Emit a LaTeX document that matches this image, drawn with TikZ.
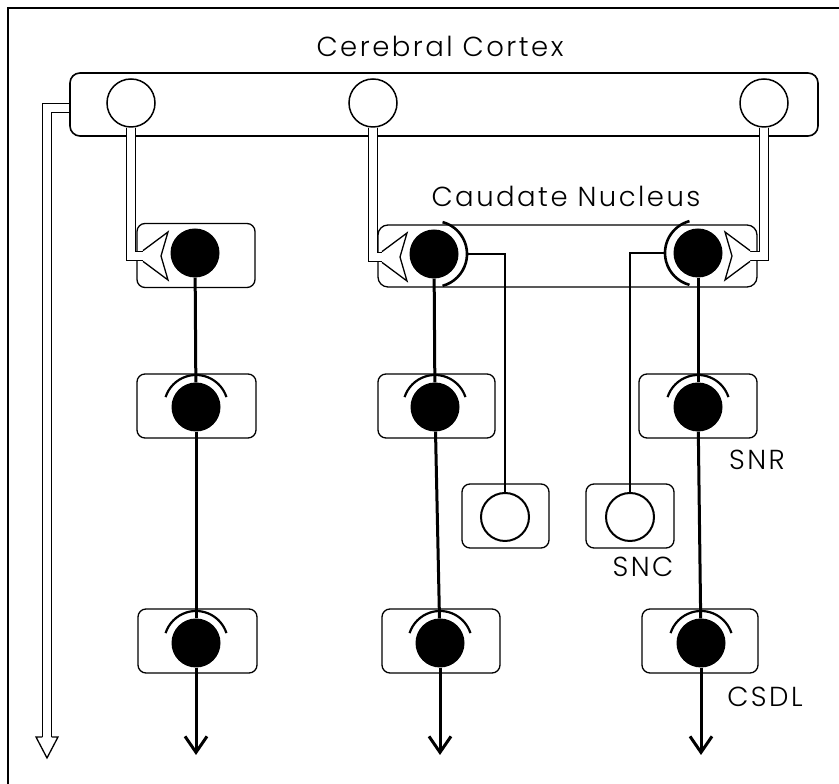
\documentclass[tikz,border=0pt]{standalone}
\usepackage{fontspec}
\newfontfamily\labfont{Poppins Light}[LetterSpace=9]
\usetikzlibrary{arrows.meta,calc}
\begin{document}
\begin{tikzpicture}[x=1pt,y=1pt,
  lab/.style={font=\labfont\fontsize{27.5}{32}\selectfont, inner sep=0, anchor=base},
  region/.style={draw, line width=1.3pt, rounded corners=8pt, inner sep=0},
  cellbox/.style={region, minimum height=64pt},
  soma/.style={circle, fill=black, minimum size=49pt, inner sep=0},
  pyr/.style={circle, draw, fill=white, line width=1.5pt, minimum size=48pt, inner sep=0},
  axon/.style={line width=3pt},
  outarrow/.style={axon, -{Straight Barb[length=16pt,width=22pt]}},
  fiber/.style={draw, line width=1.3pt, double=white, double distance=8pt},
  terminal/.style={draw, line width=1.3pt, fill=white, line join=miter},
  capline/.style={line width=2.2pt},
  crescent/.style={line width=2.6pt},
  link/.style={line width=2.2pt},
]
\useasboundingbox (0,0) rectangle (839,784);

% frame (top and left edges)
\draw[line width=2.2pt] (8,0) -- (8,776) -- (839,776);

% regions
\node[region, rounded corners=10pt, line width=1.6pt, minimum width=748pt, minimum height=63pt] (cortex) at (444,679.5) {};
\node[region, rounded corners=10pt, minimum width=379pt, minimum height=62pt] (caudate) at (567.5,528) {};
\node[cellbox, minimum width=118pt] (bL1) at (196,528.5) {};
\node[cellbox, minimum width=119pt] (bL2) at (196.5,378) {};
\node[cellbox, minimum width=117pt] (bM2) at (436.5,378) {};
\node[cellbox, minimum width=118pt] (bR2) at (698,378) {};
\node[cellbox, minimum width=87pt] (bSM) at (505.5,268) {};
\node[cellbox, minimum width=88pt] (bSR) at (630,268) {};
\node[cellbox, minimum width=119pt] (bL3) at (197.5,143) {};
\node[cellbox, minimum width=118pt] (bM3) at (441,143) {};
\node[cellbox, minimum width=116pt] (bR3) at (700,143) {};

% labels
\node[lab] (tcortex) at (440,727) {Cerebral Cortex};
\node[lab] (tcaud) at (566,577) {Caudate Nucleus};
\node[lab] (tsnr) at (757,314) {SNR};
\node[lab] (tsnc) at (643,207) {SNC};
\node[lab] (tcsdl) at (765,77) {CSDL};

% cortical cells
\node[pyr] (c1) at (131,681) {};
\node[pyr] (c2) at (373,681) {};
\node[pyr] (c3) at (764,681) {};

% nigral cells
\node[pyr, line width=2pt] (sSM) at (505,267) {};
\node[pyr, line width=2pt] (sSR) at (630,267) {};

% black somata
\node[soma] (sL1) at (195,531) {};
\node[soma] (sM1) at (434,530) {};
\node[soma] (sR1) at (698,531) {};
\node[soma] (sL2) at (196,377) {};
\node[soma] (sM2) at (435,377) {};
\node[soma] (sR2) at (698,377) {};
\node[soma] (sL3) at (196,141) {};
\node[soma] (sM3) at (440,141) {};
\node[soma] (sR3) at (701,141) {};
\coordinate (eL) at (196,29);
\coordinate (eM) at (440,29);
\coordinate (eR) at (701,29);

% cortical fibres
\draw[fiber] (c1.south) |- ($(sL1)+(-52,-3)$);
\draw[fiber] (c2.south) |- ($(sM1)+(-52,-3)$);
\draw[fiber] (c3.south) |- ($(sR1)+(52,-3)$);
\coordinate (hx) at (47,47);
\draw[fiber] ($(cortex.west)+(0,-3.5)$) -| (hx);
\draw[line width=1.3pt, line join=miter] ($(hx)+(-4.65,0)$) -- ($(hx)+(-11,0)$) -- ($(hx)+(0,-21)$) -- ($(hx)+(11,0)$) -- ($(hx)+(4.65,0)$);

% presynaptic terminals
\filldraw[terminal] ($(sL1)+(-52,2.4)$) -- ($(sL1)+(-27,21)$) -- ($(sL1)+(-34,-3)$) -- ($(sL1)+(-27,-27)$) -- ($(sL1)+(-52,-8.4)$);
\filldraw[terminal] ($(sM1)+(-52,2.4)$) -- ($(sM1)+(-27,21)$) -- ($(sM1)+(-34,-3)$) -- ($(sM1)+(-27,-27)$) -- ($(sM1)+(-52,-8.4)$);
\filldraw[terminal] ($(sR1)+(52,2.4)$) -- ($(sR1)+(27,21)$) -- ($(sR1)+(34,-3)$) -- ($(sR1)+(27,-27)$) -- ($(sR1)+(52,-8.4)$);

% caudate crescents and nigral links
\draw[crescent] ($(sM1)+(75:33)$) arc[start angle=75, end angle=-75, radius=33];
\draw[crescent] ($(sR1)+(105:33)$) arc[start angle=105, end angle=255, radius=33];
\draw[link] ($(sM1)+(33,0)$) -| (sSM.north);
\draw[link] ($(sR1)+(-33,0)$) -| (sSR.north);

% projection axons
\draw[axon] (sL1) -- (sL2);
\draw[axon] (sL2) -- (sL3);
\draw[outarrow] (sL3) -- (eL);
\draw[axon] (sM1) -- (sM2);
\draw[axon] (sM2) -- (sM3);
\draw[outarrow] (sM3) -- (eM);
\draw[axon] (sR1) -- (sR2);
\draw[axon] (sR2) -- (sR3);
\draw[outarrow] (sR3) -- (eR);

% postsynaptic caps
\foreach \s in {sL2,sM2,sR2,sL3,sM3,sR3}
  \draw[capline] ($(\s)+(18:32)$) arc[start angle=18, end angle=162, radius=32];
\end{tikzpicture}
\end{document}
